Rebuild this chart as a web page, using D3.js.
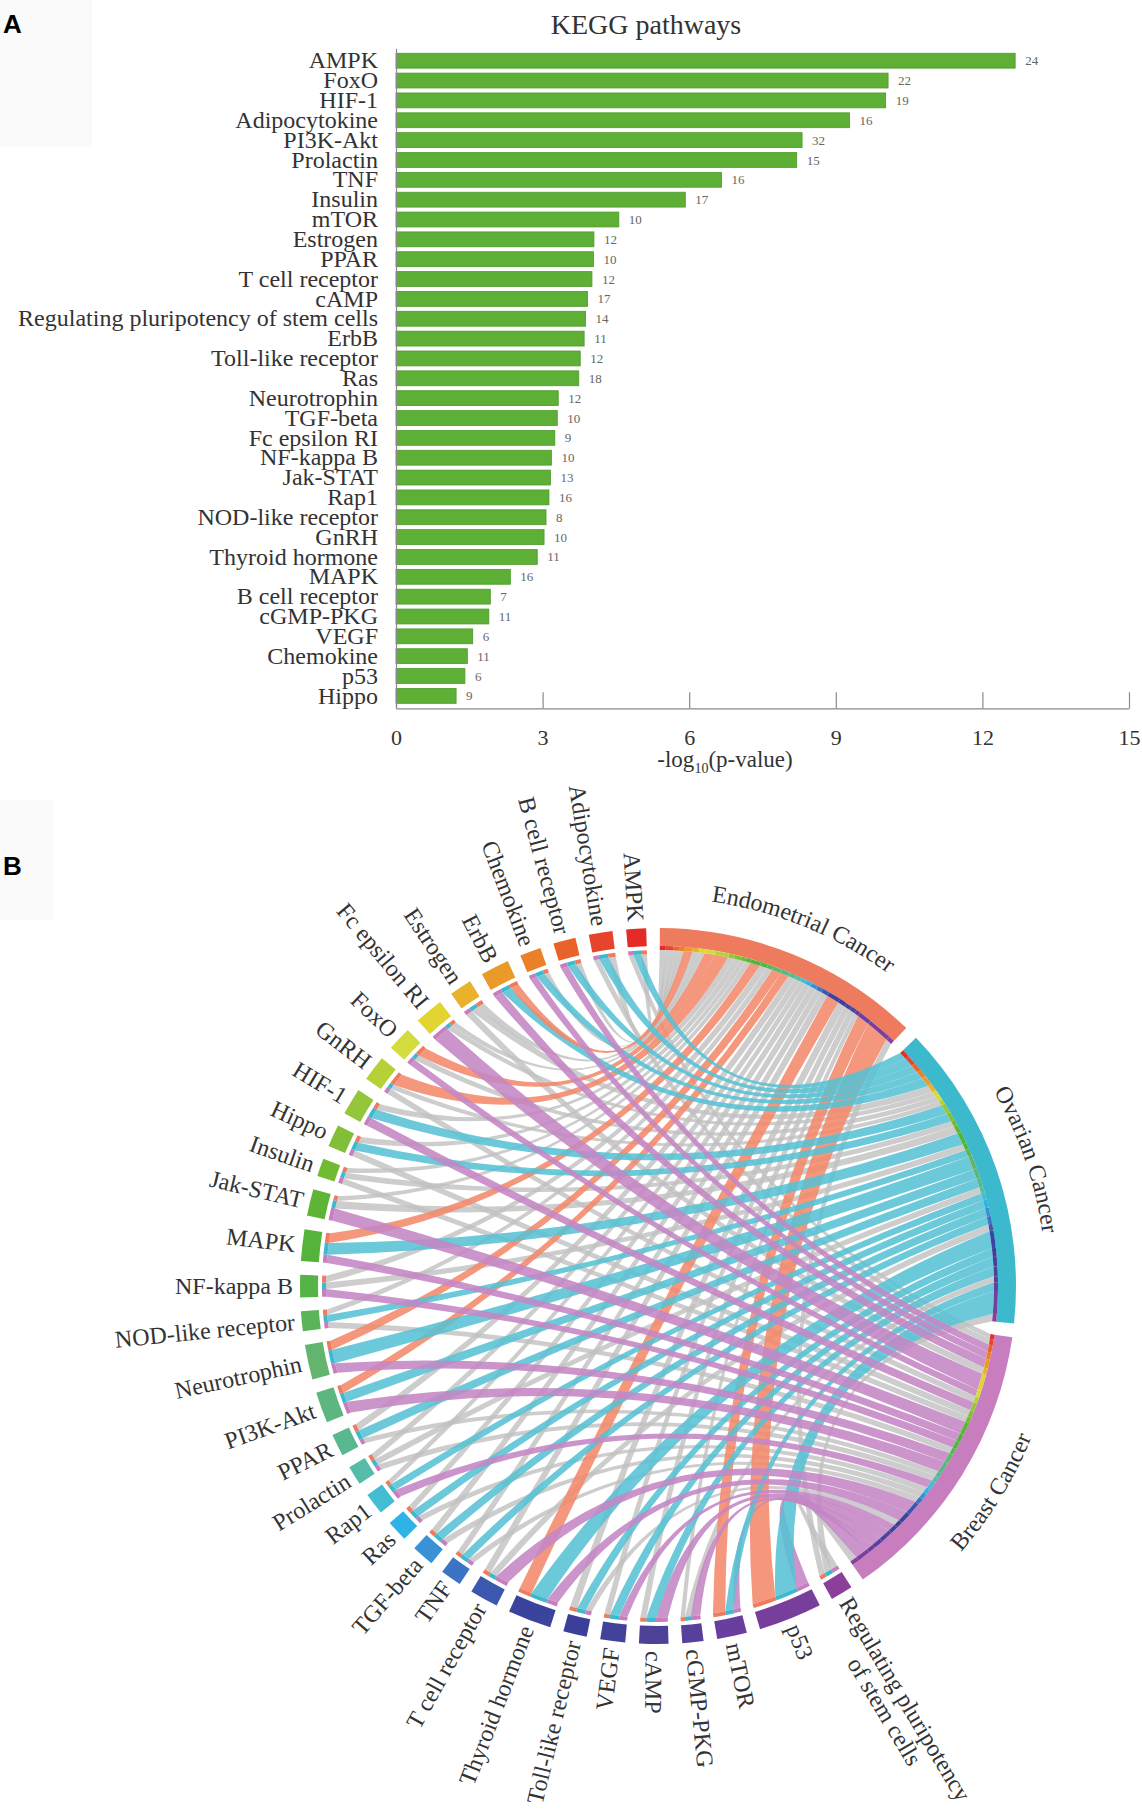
<!DOCTYPE html>
<html>
<head>
<meta charset="utf-8">
<script src="https://cdn.jsdelivr.net/npm/d3@7"></script>
<style>
  body { margin: 0; background: #fff; }
  text { font-family: "Liberation Serif", "Times New Roman", serif; fill: #333; }
  .panel-tag { font-family: "Liberation Sans", Arial, sans-serif; font-weight: bold; fill: #000; }
</style>
</head>
<body>
<svg id="fig" width="1142" height="1811"></svg>
<script>
// ---- panel A data ----
const pathways = ['AMPK', 'FoxO', 'HIF-1', 'Adipocytokine', 'PI3K-Akt', 'Prolactin', 'TNF', 'Insulin', 'mTOR',
	'Estrogen', 'PPAR', 'T cell receptor', 'cAMP', 'Regulating pluripotency of stem cells', 'ErbB',
	'Toll-like receptor', 'Ras', 'Neurotrophin', 'TGF-beta', 'Fc epsilon RI', 'NF-kappa B', 'Jak-STAT', 'Rap1',
	'NOD-like receptor', 'GnRH', 'Thyroid hormone', 'MAPK', 'B cell receptor', 'cGMP-PKG', 'VEGF', 'Chemokine',
	'p53', 'Hippo'];
const logP = [12.67, 10.07, 10.02, 9.28, 8.31, 8.2, 6.66, 5.92, 4.56, 4.05, 4.04, 4.01, 3.92, 3.88, 3.85, 3.77,
	3.74, 3.32, 3.30, 3.25, 3.18, 3.16, 3.13, 3.07, 3.03, 2.89, 2.34, 1.93, 1.90, 1.57, 1.46, 1.41, 1.23];
const geneCounts = [24, 22, 19, 16, 32, 15, 16, 17, 10, 12, 10, 12, 17, 14, 11, 12, 18, 12, 10, 9, 10, 13, 16, 8,
	10, 11, 16, 7, 11, 6, 11, 6, 9];
const xTicks = [0, 3, 6, 9, 12, 15];

// ---- panel B data (sector order as drawn, AMPK first) ----
const chordPathways = ['AMPK', 'Adipocytokine', 'B cell receptor', 'Chemokine', 'ErbB', 'Estrogen', 'Fc epsilon RI',
	'FoxO', 'GnRH', 'HIF-1', 'Hippo', 'Insulin', 'Jak-STAT', 'MAPK', 'NF-kappa B', 'NOD-like receptor',
	'Neurotrophin', 'PI3K-Akt', 'PPAR', 'Prolactin', 'Rap1', 'Ras', 'TGF-beta', 'TNF', 'T cell receptor',
	'Thyroid hormone', 'Toll-like receptor', 'VEGF', 'cAMP', 'cGMP-PKG', 'mTOR', 'p53',
	'Regulating pluripotency of stem cells'];
const cancers = ['Endometrial Cancer', 'Ovarian Cancer', 'Breast Cancer'];
const endometrial = [1.0, 1.25, 0.97, 0.85, 1.47, 1.15, 0.92, 1.76, 2.26, 1.1, 1.07, 0.87, 0.86, 1.68, 1.19, 0.96,
	1.57, 1.4, 1.15, 1.02, 0.88, 1.02, 1.08, 1.02, 1.15, 2.2, 1.24, 1.0, 1.03, 0.75, 2.16, 4.08, 1.08];
const ovarian = [1.35, 1.6, 1.37, 1.36, 1.61, 1.3, 0.92, 0.97, 0.82, 1.7, 1.45, 1.02, 1.29, 2.04, 1.08, 1.18,
	2.35, 1.65, 1.55, 1.05, 1.22, 1.36, 1.44, 1.36, 1.15, 2.9, 1.5, 1.6, 1.65, 1.02, 1.44, 3.88, 1.26];
const breast = [0.83, 0.95, 1.26, 1.19, 1.52, 1.15, 2.76, 1.17, 1.02, 1.5, 1.08, 1.01, 2.15, 1.38, 1.33, 1.06,
	1.68, 1.95, 0.9, 1.02, 1.4, 1.02, 1.08, 1.02, 2.3, 1.89, 1.06, 1.4, 2.02, 1.63, 1.2, 2.24, 1.26];
// 1 = link drawn in the cancer colour, 0 = grey
const hiEndometrial = [0, 0, 0, 0, 1, 0, 0, 1, 1, 0, 0, 0, 0, 1, 0, 0, 1, 1, 0, 0, 0, 0, 0, 0, 0, 1, 0, 0, 0, 0, 1, 1, 0];
const hiOvarian = [1, 1, 1, 1, 1, 0, 0, 0, 0, 1, 1, 0, 0, 1, 0, 1, 1, 1, 1, 0, 1, 1, 1, 1, 0, 1, 1, 1, 1, 0, 1, 1, 0];
const hiBreast = [0, 0, 1, 1, 1, 0, 1, 1, 0, 1, 0, 0, 1, 1, 1, 0, 1, 1, 0, 0, 1, 0, 0, 0, 1, 1, 0, 1, 1, 1, 1, 1, 0];
const pathwayColors = ['#E52B25', '#E6452B', '#E8632A', '#EA8128', '#E99A28', '#E8B22C', '#E3D52F', '#D3DC3E',
	'#B6D135', '#93C63A', '#80BF37', '#70BB32', '#5EB535', '#55B23B', '#55B446', '#5CB45A', '#63B46E', '#5DB57F',
	'#58B890', '#56BCA8', '#44BCD2', '#2DB3E6', '#3A92D6', '#3B74C4', '#3C58AE', '#3B449C', '#3C3F9A', '#43429B',
	'#4C4399', '#583F9C', '#693E9E', '#773F9B', '#8C3F9A'];
const cancerColors = ['#EE7B5E', '#3DB9CE', '#C77DBE'];
const linkColors = ['#F2896B', '#58C2D4', '#C486C5'];

const svg = d3.select('#fig');

// faint scan boxes behind the panel tags
svg.append('rect').attr('x', 0).attr('y', 0).attr('width', 92).attr('height', 147).attr('fill', '#fafafa');
svg.append('rect').attr('x', 0).attr('y', 800).attr('width', 54).attr('height', 120).attr('fill', '#fafafa');
svg.append('text').attr('class', 'panel-tag').attr('x', 3).attr('y', 33).attr('font-size', 26).text('A');
svg.append('text').attr('class', 'panel-tag').attr('x', 3).attr('y', 875).attr('font-size', 26).text('B');

// ================= panel A : bar chart =================
(() => {
	const x = d3.scaleLinear().domain([0, 15]).range([396, 1129]);
	const y = d3.scaleBand().domain(pathways).range([48.3, 708.3]).padding(0.25);
	const chart = svg.append('g');

	chart.selectAll('.bar')
		.data(pathways)
		.enter().append('rect')
			.attr('class', 'bar')
			.attr('x', x(0))
			.attr('y', d => y(d))
			.attr('width', (d, i) => x(logP[i]) - x(0))
			.attr('height', y.bandwidth())
			.attr('fill', '#5DAF35')
			.attr('stroke', '#4E9A2B')
			.attr('stroke-width', 0.8);

	chart.selectAll('.count')
		.data(pathways)
		.enter().append('text')
			.attr('class', 'count')
			.attr('x', (d, i) => x(logP[i]) + 10)
			.attr('y', d => y(d) + y.bandwidth() / 2)
			.attr('dy', '.35em')
			.attr('font-size', 13)
			.style('fill', '#666')
			.text((d, i) => geneCounts[i]);

	const xAxis = d3.axisBottom(x)
		.tickValues(xTicks)
		.tickSizeInner(-16)
		.tickSizeOuter(0)
		.tickPadding(21);
	const gx = chart.append('g')
		.attr('transform', 'translate(0, 708.3)')
		.call(xAxis);
	gx.selectAll('path, line').attr('stroke', '#8a8a8a').attr('stroke-width', 1.2);
	gx.selectAll('text').attr('font-size', 22).attr('font-family', '"Liberation Serif", serif').style('fill', '#333');

	const yAxis = d3.axisLeft(y).tickSize(0).tickPadding(18);
	const gy = chart.append('g')
		.attr('transform', `translate(${x(0)}, 0)`)
		.call(yAxis);
	gy.select('.domain').attr('stroke', '#8a8a8a').attr('stroke-width', 1.2);
	gy.selectAll('text').attr('font-size', 24).attr('font-family', '"Liberation Serif", serif').style('fill', '#333');

	chart.append('text')
		.attr('x', 646).attr('y', 34)
		.attr('text-anchor', 'middle')
		.attr('font-size', 28)
		.text('KEGG pathways');

	const xl = chart.append('text')
		.attr('x', 725).attr('y', 767)
		.attr('text-anchor', 'middle')
		.attr('font-size', 23);
	xl.append('tspan').text('-log');
	xl.append('tspan').attr('font-size', 14).attr('dy', 6).text('10');
	xl.append('tspan').attr('dy', -6).text('(p-value)');
})();

// ================= panel B : chord diagram =================
(() => {
	const cx = 658, cy = 1286;
	const rOut = 358, rIn = 340;
	const rStubOut = 336, rStubIn = 332;      // target-colour bars at pathway side
	const rStripOut = 340, rStripIn = 336;    // source-colour strip at cancer side
	const rLinkP = rStubIn, rLinkC = rStripIn;
	const gapDeg = 2.2, startDeg = 0.3;
	const rad = Math.PI / 180;

	const colVals = [endometrial, ovarian, breast];
	const colHi = [hiEndometrial, hiOvarian, hiBreast];
	const rowTotals = chordPathways.map((_, i) => endometrial[i] + ovarian[i] + breast[i]);
	const colTotals = colVals.map(a => d3.sum(a));
	const grand = d3.sum(rowTotals) + d3.sum(colTotals);
	const sectorCount = chordPathways.length + cancers.length;
	const ang = d3.scaleLinear().domain([0, grand]).range([0, (360 - sectorCount * gapDeg) * rad]);

	// lay out sectors clockwise: cancers, then pathways from the bottom back up to AMPK
	const sectors = [];
	let cur = startDeg * rad;
	cancers.forEach((c, j) => {
		const w = ang(colTotals[j]);
		sectors.push({ name: c, kind: 'cancer', j, a0: cur, a1: cur + w });
		cur += w + gapDeg * rad;
	});
	for (let i = chordPathways.length - 1; i >= 0; i--) {
		const w = ang(rowTotals[i]);
		sectors.push({ name: chordPathways[i], kind: 'path', i, a0: cur, a1: cur + w });
		cur += w + gapDeg * rad;
	}

	// link ends
	const links = {};
	sectors.filter(s => s.kind === 'path').forEach((s) => {
		let p = s.a0;
		[2, 1, 0].forEach((j) => {
			const w = ang(colVals[j][s.i]);
			links[`${s.i}-${j}`] = { i: s.i, j, s0: p, s1: p + w, hi: colHi[j][s.i] };
			p += w;
		});
	});
	sectors.filter(s => s.kind === 'cancer').forEach((s) => {
		let q = s.a0;
		chordPathways.forEach((_, i) => {
			const w = ang(colVals[s.j][i]);
			const l = links[`${i}-${s.j}`];
			l.t0 = q; l.t1 = q + w;
			q += w;
		});
	});
	const linkList = Object.values(links);

	const g = svg.append('g').attr('transform', `translate(${cx}, ${cy})`);
	const pt = (r, a) => [r * Math.sin(a), -r * Math.cos(a)];
	const ctrl = (a, b) => {
		let d = b - a;
		d = ((d % (2 * Math.PI)) + 3 * Math.PI) % (2 * Math.PI) - Math.PI;
		const c = 0.45 * rOut * Math.cos(Math.abs(d) / 2);
		return pt(c, a + d / 2);
	};
	const ribbon = (l) => {
		const p = d3.path();
		const a0 = pt(rLinkP, l.s0);
		p.moveTo(a0[0], a0[1]);
		p.arc(0, 0, rLinkP, l.s0 - Math.PI / 2, l.s1 - Math.PI / 2);
		let c = ctrl(l.s1, l.t0);
		const b0 = pt(rLinkC, l.t0);
		p.quadraticCurveTo(c[0], c[1], b0[0], b0[1]);
		p.arc(0, 0, rLinkC, l.t0 - Math.PI / 2, l.t1 - Math.PI / 2);
		c = ctrl(l.t1, l.s0);
		p.quadraticCurveTo(c[0], c[1], a0[0], a0[1]);
		p.closePath();
		return p.toString();
	};

	// grey links first, coloured ones on top
	g.append('g').selectAll('path')
		.data(linkList.filter(l => !l.hi))
		.enter().append('path')
			.attr('d', ribbon)
			.attr('fill', '#C0C0C0')
			.attr('fill-opacity', 0.8);
	g.append('g').selectAll('path')
		.data(linkList.filter(l => l.hi))
		.enter().append('path')
			.attr('d', ribbon)
			.attr('fill', l => linkColors[l.j])
			.attr('fill-opacity', 0.88);

	const arc = d3.arc();
	// outer blocks
	g.append('g').selectAll('path')
		.data(sectors)
		.enter().append('path')
			.attr('d', s => arc({ innerRadius: rIn, outerRadius: rOut, startAngle: s.a0, endAngle: s.a1 }))
			.attr('fill', s => (s.kind === 'cancer' ? cancerColors[s.j] : pathwayColors[s.i]));
	// target bars at pathway side
	g.append('g').selectAll('path')
		.data(linkList)
		.enter().append('path')
			.attr('d', l => arc({ innerRadius: rStubIn, outerRadius: rStubOut, startAngle: l.s0, endAngle: l.s1 }))
			.attr('fill', l => cancerColors[l.j]);
	// source strip at cancer side
	g.append('g').selectAll('path')
		.data(linkList)
		.enter().append('path')
			.attr('d', l => arc({ innerRadius: rStripIn, outerRadius: rStripOut, startAngle: l.t0, endAngle: l.t1 }))
			.attr('fill', l => pathwayColors[l.i]);

	// pathway labels
	const rLabel = rOut + 7;
	sectors.filter(s => s.kind === 'path').forEach((s) => {
		const mid = (s.a0 + s.a1) / 2;
		const deg = mid / rad;
		const outward = deg <= 184;
		const lg = g.append('g').attr('transform', `rotate(${outward ? deg - 90 : deg - 270})`);
		const lines = s.name === 'Regulating pluripotency of stem cells'
			? ['Regulating pluripotency', 'of stem cells'] : [s.name];
		const first = lg.append('text')
			.attr('x', outward ? rLabel : -rLabel)
			.attr('dy', '.33em')
			.attr('font-size', 24)
			.attr('text-anchor', outward ? 'start' : 'end')
			.text(lines[0]);
		if (lines.length > 1) {
			const w1 = first.node().getComputedTextLength();
			lg.append('text')
				.attr('x', rLabel + w1 / 2)
				.attr('y', 24)
				.attr('dy', '.33em')
				.attr('font-size', 24)
				.attr('text-anchor', 'middle')
				.text(lines[1]);
		}
	});

	// cancer labels along the rim
	const defs = svg.append('defs');
	sectors.filter(s => s.kind === 'cancer').forEach((s) => {
		const mid = (s.a0 + s.a1) / 2;
		const flip = mid / rad > 100;
		const r = flip ? 403 : 388;
		const a = flip ? mid + 0.6 : mid - 0.6;
		const b = flip ? mid - 0.6 : mid + 0.6;
		const p0 = pt(r, a), p1 = pt(r, b);
		const id = `lab-${s.j}`;
		defs.append('path')
			.attr('id', id)
			.attr('d', `M${p0[0]},${p0[1]} A${r},${r} 0 0 ${flip ? 0 : 1} ${p1[0]},${p1[1]}`)
			.attr('transform', `translate(${cx}, ${cy})`);
		svg.append('text')
			.attr('font-size', 24)
			.append('textPath')
				.attr('href', `#${id}`)
				.attr('startOffset', '50%')
				.attr('text-anchor', 'middle')
				.text(s.name);
	});
})();
</script>
</body>
</html>
